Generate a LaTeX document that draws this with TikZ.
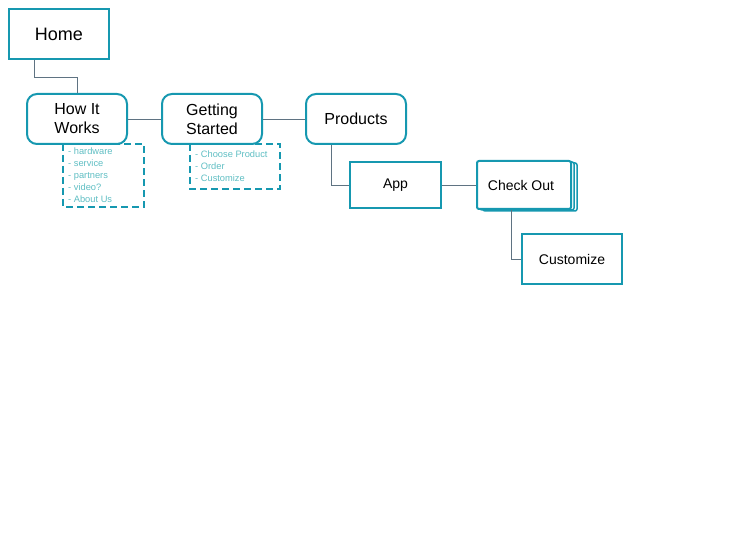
\documentclass[tikz,border=0pt]{standalone}
\usepackage{fontspec}
\setmainfont{Liberation Sans}
\definecolor{teal1}{RGB}{22,152,176}
\definecolor{conn}{RGB}{95,115,130}
\definecolor{lighttxt}{RGB}{95,190,195}
\begin{document}
\begin{tikzpicture}[x=1pt,y=-1pt,
  box/.style={draw=teal1,line width=2pt,fill=white,inner sep=0pt,align=center,text=black},
  rbox/.style={box,rounded corners=10pt},
  link/.style={draw=conn,line width=0.8pt},
  dbox/.style={draw=teal1,line width=2pt,dash pattern=on 7pt off 4pt},
  ltxt/.style={text=lighttxt,font=\fontsize{9.3}{12}\selectfont,align=left,anchor=north west,inner sep=0pt}]
\useasboundingbox (0,0) rectangle (756,553);
% dashed boxes
\draw[dbox] (63,144) rectangle (144,207);
\draw[dbox] (190,144) rectangle (280,189);
\node[ltxt] (l1) at (68,147.5) {- hardware\\- service\\- partners\\- video?\\- About Us};
\node[ltxt] (l2) at (195,150.5) {- Choose Product\\- Order\\- Customize};
% check out stack backs
\draw[draw=teal1,line width=1.5pt,fill=white,rounded corners=2pt] (483,163) rectangle (577,211);
\draw[draw=teal1,line width=1.5pt,fill=white,rounded corners=2pt] (480,162) rectangle (574,210);
% nodes
\node[box,minimum width=100pt,minimum height=50pt,font=\fontsize{18}{20}\selectfont] (home) at (59,34) {Home};
\node[rbox,minimum width=100pt,minimum height=50pt,font=\fontsize{16}{19}\selectfont] (how) at (77,119) {How It\\Works};
\node[rbox,minimum width=100pt,minimum height=50pt,font=\fontsize{16}{19}\selectfont] (gs) at (212,119) {Getting\\Started};
\node[rbox,minimum width=100pt,minimum height=50pt,font=\fontsize{16}{19}\selectfont] (prod) at (356,119) {Products};
\node[box,minimum width=91pt,minimum height=46pt,font=\fontsize{14}{16}\selectfont] (app) at (395.5,185) {\raisebox{-1.5pt}{App}};
\node[box,rounded corners=2pt,minimum width=94pt,minimum height=48pt,font=\fontsize{14}{16}\selectfont] (co) at (524,185) {\hspace*{-6pt}Check Out};
\node[box,minimum width=100pt,minimum height=50pt,font=\fontsize{14}{16}\selectfont] (cust) at (572,259) {\raisebox{-1pt}{Customize}};
% connectors
\coordinate (h1) at ([xshift=-25pt]home.south);
\draw[link] (h1) |- (77,77) -- (how.north);
\draw[link] (how.east) -- (gs.west);
\draw[link] (gs.east) -- (prod.west);
\draw[link] ([xshift=-25pt]prod.south) |- (app.west);
\draw[link] (app.east) -- (co.west);
\draw[link] ([xshift=-13pt]co.south) |- (cust.west);
\end{tikzpicture}
\end{document}
